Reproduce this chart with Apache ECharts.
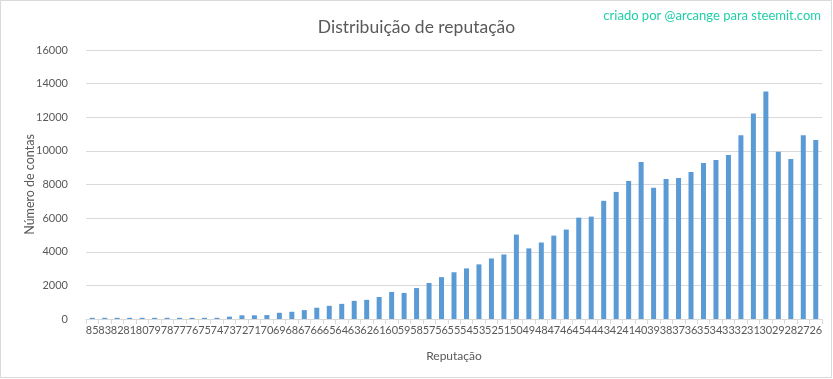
<!DOCTYPE html>
<html>
<head>
<meta charset="utf-8">
<script src="https://cdn.jsdelivr.net/npm/echarts@6/dist/echarts.min.js"></script>
<style>
html,body{margin:0;padding:0;background:#fff;}
#chart{width:833px;height:379px;}
</style>
</head>
<body>
<div id="chart"></div>
<script>
const categories = ['85','83','82','81','80','79','78','77','76','75','74','73','72','71','70','69','68','67','66','65','64','63','62','61','60','59','58','57','56','55','54','53','52','51','50','49','48','47','46','45','44','43','42','41','40','39','38','37','36','35','34','33','32','31','30','29','28','27','26'];
const accounts = [70,70,70,70,70,70,70,70,70,70,70,140,220,220,235,370,430,530,670,785,900,1080,1140,1310,1610,1550,1840,2140,2490,2780,3010,3250,3600,3840,5020,4200,4550,4960,5320,6030,6090,7030,7560,8210,9340,7800,8330,8390,8750,9280,9460,9750,10930,12230,13530,9950,9510,10930,10640];
const yTicks = [0,2000,4000,6000,8000,10000,12000,14000,16000];
const titleText = 'Distribuição de reputação';
const creditText = 'criado por @arcange para steemit.com';
const xName = 'Reputação';
const yName = 'Número de contas';

const FONT = 'Lato';
const chart = echarts.init(document.getElementById('chart'), null, {renderer:'canvas'});
chart.setOption({
  animation:false,
  backgroundColor:'#ffffff',
  title:{
    text:titleText, left:'center', top:13,
    textStyle:{fontFamily:FONT, fontSize:17.5, fontWeight:'normal', color:'#595959'}
  },
  graphic:[
    {type:'text', right:12, top:9, style:{text:creditText, fill:'#1fcfa8', font:'13px '+FONT}},
    {type:'rect', shape:{x:0.5,y:0.5,width:831,height:377}, style:{fill:'none', stroke:'#d9d9d9', lineWidth:1}, silent:true}
  ],
  grid:{left:86, right:11, top:50, bottom:60},
  xAxis:{
    type:'category', data:categories,
    name:xName, nameLocation:'middle', nameGap:31,
    nameTextStyle:{fontFamily:FONT, fontSize:12, color:'#595959'},
    axisLine:{lineStyle:{color:'#d9d9d9'}},
    axisTick:{show:true, length:5, lineStyle:{color:'#d9d9d9'}},
    axisLabel:{interval:0, fontFamily:FONT, fontSize:11, color:'#595959', margin:6},
  },
  yAxis:{
    type:'value', min:yTicks[0], max:yTicks[yTicks.length-1], interval:yTicks[1]-yTicks[0],
    name:yName, nameLocation:'middle', nameGap:50, nameMoveOverlap:false,
    nameTextStyle:{fontFamily:FONT, fontSize:12.5, color:'#595959'},
    axisLine:{show:false}, axisTick:{show:false},
    axisLabel:{fontFamily:FONT, fontSize:11, color:'#595959', margin:18, formatter:function(v){return String(v);}},
    splitLine:{lineStyle:{color:'#d9d9d9'}}
  },
  series:[{
    type:'bar', data:accounts, barWidth:5,
    itemStyle:{color:'#5b9bd5'}
  }]
});
</script>
</body>
</html>
